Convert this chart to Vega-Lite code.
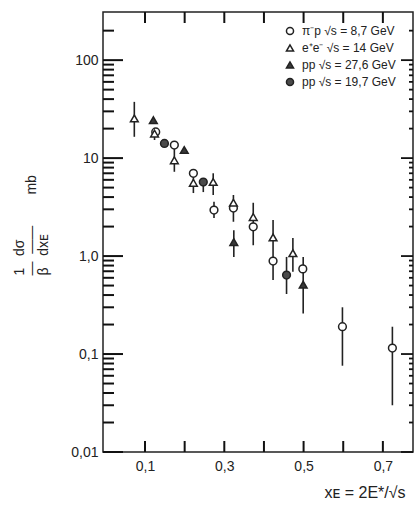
{
  "$schema": "https://vega.github.io/schema/vega-lite/v6.json",
  "width": 310,
  "height": 440,
  "autosize": {"type": "none"},
  "padding": {"left": 103, "top": 12, "right": 1, "bottom": 53},
  "background": "white",
  "config": {
    "font": "Liberation Sans",
    "view": {"stroke": "#222", "strokeWidth": 1.5},
    "axis": {
      "domain": false,
      "ticks": false,
      "tickSize": 0,
      "grid": false,
      "labelColor": "#222",
      "titleColor": "#222",
      "labelFont": "Liberation Sans",
      "titleFont": "Liberation Sans",
      "labelOverlap": false,
      "labelFlush": false,
      "labelBound": false
    }
  },
  "datasets": {
    "obs": [
      {"series": "π⁻p √s = 8,7 GeV", "x": 0.127, "y": 18.5},
      {"series": "π⁻p √s = 8,7 GeV", "x": 0.174, "y": 13.6},
      {"series": "π⁻p √s = 8,7 GeV", "x": 0.222, "y": 7.0},
      {"series": "π⁻p √s = 8,7 GeV", "x": 0.274, "y": 2.95, "lo": 2.44, "hi": 3.58},
      {"series": "π⁻p √s = 8,7 GeV", "x": 0.323, "y": 3.09},
      {"series": "π⁻p √s = 8,7 GeV", "x": 0.373, "y": 1.99, "lo": 1.29, "hi": 1.99},
      {"series": "π⁻p √s = 8,7 GeV", "x": 0.423, "y": 0.89, "lo": 0.57, "hi": 0.89},
      {"series": "π⁻p √s = 8,7 GeV", "x": 0.498, "y": 0.74},
      {"series": "π⁻p √s = 8,7 GeV", "x": 0.598, "y": 0.19, "lo": 0.076, "hi": 0.30},
      {"series": "π⁻p √s = 8,7 GeV", "x": 0.724, "y": 0.115, "lo": 0.030, "hi": 0.19},
      {"series": "e⁺e⁻ √s = 14 GeV", "x": 0.073, "y": 25.4, "lo": 16.5, "hi": 37.5},
      {"series": "e⁺e⁻ √s = 14 GeV", "x": 0.124, "y": 17.8, "lo": 15.3, "hi": 17.8},
      {"series": "e⁺e⁻ √s = 14 GeV", "x": 0.174, "y": 9.5, "lo": 7.25, "hi": 12.6},
      {"series": "e⁺e⁻ √s = 14 GeV", "x": 0.222, "y": 5.6, "lo": 4.4, "hi": 7.0},
      {"series": "e⁺e⁻ √s = 14 GeV", "x": 0.272, "y": 5.7, "lo": 4.2, "hi": 7.0},
      {"series": "e⁺e⁻ √s = 14 GeV", "x": 0.323, "y": 3.5, "lo": 2.24, "hi": 4.2},
      {"series": "e⁺e⁻ √s = 14 GeV", "x": 0.373, "y": 2.5, "lo": 1.99, "hi": 3.5},
      {"series": "e⁺e⁻ √s = 14 GeV", "x": 0.423, "y": 1.55, "lo": 0.89, "hi": 2.33},
      {"series": "e⁺e⁻ √s = 14 GeV", "x": 0.473, "y": 1.07, "lo": 0.69, "hi": 1.53},
      {"series": "pp √s = 27,6 GeV", "x": 0.121, "y": 24.4},
      {"series": "pp √s = 27,6 GeV", "x": 0.199, "y": 12.1},
      {"series": "pp √s = 27,6 GeV", "x": 0.324, "y": 1.39, "lo": 0.98, "hi": 1.84},
      {"series": "pp √s = 27,6 GeV", "x": 0.499, "y": 0.51, "lo": 0.26, "hi": 0.98},
      {"series": "pp √s = 19,7 GeV", "x": 0.149, "y": 14.1},
      {"series": "pp √s = 19,7 GeV", "x": 0.247, "y": 5.7, "lo": 4.5, "hi": 5.7},
      {"series": "pp √s = 19,7 GeV", "x": 0.457, "y": 0.64, "lo": 0.41, "hi": 0.98}
    ],
    "yticks": [
      {"v": 0.01, "kind": "major"}, {"v": 0.02, "kind": "minor"}, {"v": 0.03, "kind": "minor"},
      {"v": 0.04, "kind": "minor"}, {"v": 0.05, "kind": "minor"}, {"v": 0.06, "kind": "minor"},
      {"v": 0.07, "kind": "minor"}, {"v": 0.08, "kind": "minor"}, {"v": 0.09, "kind": "minor"},
      {"v": 0.1, "kind": "major"}, {"v": 0.2, "kind": "minor"}, {"v": 0.3, "kind": "minor"},
      {"v": 0.4, "kind": "minor"}, {"v": 0.5, "kind": "minor"}, {"v": 0.6, "kind": "minor"},
      {"v": 0.7, "kind": "minor"}, {"v": 0.8, "kind": "minor"}, {"v": 0.9, "kind": "minor"},
      {"v": 1, "kind": "major"}, {"v": 2, "kind": "minor"}, {"v": 3, "kind": "minor"},
      {"v": 4, "kind": "minor"}, {"v": 5, "kind": "minor"}, {"v": 6, "kind": "minor"},
      {"v": 7, "kind": "minor"}, {"v": 8, "kind": "minor"}, {"v": 9, "kind": "minor"},
      {"v": 10, "kind": "major"}, {"v": 20, "kind": "minor"}, {"v": 30, "kind": "minor"},
      {"v": 40, "kind": "minor"}, {"v": 50, "kind": "minor"}, {"v": 60, "kind": "minor"},
      {"v": 70, "kind": "minor"}, {"v": 80, "kind": "minor"}, {"v": 90, "kind": "minor"},
      {"v": 100, "kind": "major"}, {"v": 200, "kind": "minor"}
    ],
    "xticks": [
      {"v": 0.1}, {"v": 0.2}, {"v": 0.3}, {"v": 0.4}, {"v": 0.5}, {"v": 0.6}, {"v": 0.7}
    ]
  },
  "data": {"name": "obs"},
  "resolve": {"axis": {"x": "independent", "y": "independent"}, "scale": {"size": "independent"}},
  "layer": [
    {
      "transform": [{"filter": "isValid(datum.lo)"}],
      "mark": {"type": "rule", "color": "#222", "strokeWidth": 1.6},
      "encoding": {
        "x": {
          "field": "x",
          "type": "quantitative",
          "scale": {"domain": [-0.006, 0.776], "nice": false, "zero": false},
          "axis": {
            "orient": "bottom",
            "values": [0.1, 0.2, 0.3, 0.4, 0.5, 0.6, 0.7],
            "labelPadding": 7,
            "labelFontSize": 14,
            "labelExpr": "round(datum.value * 10) % 2 == 1 ? replace(format(datum.value, '.1f'), '.', ',') : ''",
            "title": "xᴇ = 2E*/√s",
            "titleFontSize": 16,
            "titleFontWeight": "normal",
            "titleAnchor": "end",
            "titleAlign": "right",
            "titleX": 302,
            "titleY": 45,
            "titleBaseline": "alphabetic"
          }
        },
        "y": {
          "field": "lo",
          "type": "quantitative",
          "scale": {"type": "log", "domain": [0.01, 310], "nice": false},
          "axis": {
            "orient": "left",
            "values": [0.01, 0.1, 1, 10, 100],
            "labelPadding": 5,
            "labelFontSize": 14,
            "labelExpr": "datum.value == 1 ? '1,0' : replace(toString(datum.value), '.', ',')",
            "title": ["1\u00a0\u00a0\u00a0dσ", "—\u00a0\u00a0——\u00a0\u00a0\u00a0\u00a0\u00a0\u00a0\u00a0\u00a0mb", "β\u00a0\u00a0\u00a0dxᴇ"],
            "titleFontSize": 14,
            "titleFontWeight": "normal",
            "titleLineHeight": 12,
            "titleAngle": -90,
            "titleAlign": "left",
            "titleBaseline": "top",
            "titleX": -91,
            "titleY": 263
          }
        },
        "y2": {"field": "hi"}
      }
    },
    {
      "data": {"name": "yticks"},
      "mark": {"type": "point", "shape": "M0,0H2", "filled": false, "opacity": 1, "strokeWidth": 2, "color": "#111"},
      "encoding": {
        "y": {"field": "v", "type": "quantitative", "scale": {"type": "log", "domain": [0.01, 310], "nice": false}, "axis": null},
        "x": {"datum": -0.006, "type": "quantitative", "scale": {"domain": [-0.006, 0.776], "nice": false, "zero": false}, "axis": null},
        "size": {"field": "kind", "type": "nominal", "scale": {"domain": ["major", "minor"], "range": [400, 121]}, "legend": null}
      }
    },
    {
      "data": {"name": "yticks"},
      "mark": {"type": "point", "shape": "M0,0H-2", "filled": false, "opacity": 1, "strokeWidth": 1.8, "color": "#111"},
      "encoding": {
        "y": {"field": "v", "type": "quantitative", "axis": null},
        "x": {"datum": 0.776, "type": "quantitative", "axis": null},
        "size": {"field": "kind", "type": "nominal", "scale": {"domain": ["major", "minor"], "range": [144, 16]}, "legend": null}
      }
    },
    {
      "data": {"name": "xticks"},
      "mark": {"type": "point", "shape": "M0,0V-2", "filled": false, "opacity": 1, "strokeWidth": 2, "size": 121, "color": "#111"},
      "encoding": {
        "x": {"field": "v", "type": "quantitative", "axis": null},
        "y": {"datum": 0.01, "type": "quantitative", "axis": null}
      }
    },
    {
      "data": {"name": "xticks"},
      "mark": {"type": "point", "shape": "M0,0V2", "filled": false, "opacity": 1, "strokeWidth": 2, "size": 121, "color": "#111"},
      "encoding": {
        "x": {"field": "v", "type": "quantitative", "axis": null},
        "y": {"datum": 310, "type": "quantitative", "axis": null}
      }
    },
    {
      "mark": {"type": "point", "filled": true, "opacity": 1, "size": 60, "strokeWidth": 1.5},
      "encoding": {
        "x": {"field": "x", "type": "quantitative", "axis": null},
        "y": {"field": "y", "type": "quantitative", "axis": null},
        "shape": {
          "field": "series",
          "type": "nominal",
          "scale": {
            "domain": ["π⁻p √s = 8,7 GeV", "e⁺e⁻ √s = 14 GeV", "pp √s = 27,6 GeV", "pp √s = 19,7 GeV"],
            "range": ["circle", "triangle-up", "triangle-up", "circle"]
          },
          "legend": {
            "title": null,
            "orient": "none",
            "legendX": 181,
            "legendY": 13,
            "labelFontSize": 12,
            "labelColor": "#222",
            "labelFont": "Liberation Sans",
            "symbolSize": 50,
            "rowPadding": 3,
            "labelOffset": 6,
            "encode": {"symbols": {"update": {"stroke": {"value": "#222"}, "strokeWidth": {"value": 1.4}, "opacity": {"value": 1}}}}
          }
        },
        "fill": {
          "field": "series",
          "type": "nominal",
          "scale": {
            "domain": ["π⁻p √s = 8,7 GeV", "e⁺e⁻ √s = 14 GeV", "pp √s = 27,6 GeV", "pp √s = 19,7 GeV"],
            "range": ["white", "white", "#3a3a3a", "#4a4a4a"]
          },
          "legend": {
            "title": null,
            "orient": "none",
            "legendX": 181,
            "legendY": 13,
            "labelFontSize": 12,
            "labelColor": "#222",
            "labelFont": "Liberation Sans",
            "symbolSize": 50,
            "rowPadding": 3,
            "labelOffset": 6,
            "encode": {"symbols": {"update": {"stroke": {"value": "#222"}, "strokeWidth": {"value": 1.4}, "opacity": {"value": 1}}}}
          }
        },
        "stroke": {"value": "#222"}
      }
    }
  ]
}
